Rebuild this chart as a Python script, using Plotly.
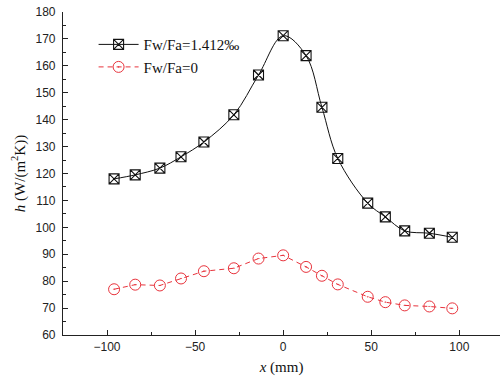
import plotly.graph_objects as go

x_pos = [-96, -84, -70, -58, -45, -28, -14, 0, 13, 22, 31, 48, 58, 69, 83, 96]
h_wet = [118.0, 119.5, 122.0, 126.2, 131.7, 141.8, 156.6, 171.2, 163.8, 144.6, 125.6, 109.0, 103.9, 98.7, 97.8, 96.3]
h_dry = [77.0, 78.7, 78.4, 81.0, 83.7, 84.8, 88.4, 89.6, 85.3, 82.0, 78.8, 74.2, 72.2, 71.0, 70.6, 69.9]

serif = "Liberation Serif, Times New Roman, serif"
sans = "Liberation Sans, Arial, sans-serif"
red = "#e8333c"

fig = go.Figure()
fig.add_trace(go.Scatter(
    x=x_pos, y=h_wet, mode="lines+markers", name="Fw/Fa=1.412‰",
    line=dict(color="#111111", width=1, shape="spline", smoothing=1.0),
    marker=dict(symbol="square-x-open", size=10, color="#111111", line=dict(width=1.1)),
))
fig.add_trace(go.Scatter(
    x=x_pos, y=h_dry, mode="lines+markers", name="Fw/Fa=0",
    line=dict(color=red, width=1, dash="5px,4px"),
    marker=dict(symbol="circle-open-dot", size=11, color=red, line=dict(width=1)),
))

fig.update_layout(
    width=500, height=385,
    margin=dict(l=63, r=0, t=12, b=50),
    paper_bgcolor="white", plot_bgcolor="white",
    showlegend=True,
    legend=dict(x=0.07, y=0.95, xanchor="left", yanchor="top",
                font=dict(family=serif, size=15, color="#111111"),
                bgcolor="rgba(0,0,0,0)", itemwidth=40, tracegroupgap=0),
    xaxis=dict(
        range=[-125, 123.1], showgrid=False, zeroline=False,
        showline=True, linecolor="#222222", linewidth=1.2,
        ticks="inside", ticklen=5, tickcolor="#222222", tickwidth=1,
        tickvals=[-100, -50, 0, 50, 100],
        tickfont=dict(family=sans, size=12, color="#222222"),
        minor=dict(tickvals=[-75, -25, 25, 75], ticks="inside", ticklen=3, tickcolor="#222222"),
        title=dict(text="<i>x</i> (mm)", font=dict(family=serif, size=15, color="#111111"), standoff=8),
    ),
    yaxis=dict(
        range=[60, 180], showgrid=False, zeroline=False,
        showline=True, linecolor="#222222", linewidth=1.2,
        ticks="inside", ticklen=5, tickcolor="#222222", tickwidth=1,
        tickvals=[60, 70, 80, 90, 100, 110, 120, 130, 140, 150, 160, 170, 180],
        tickfont=dict(family=sans, size=12, color="#222222"),
        ticklabelstandoff=4,
        minor=dict(tickvals=[65, 75, 85, 95, 105, 115, 125, 135, 145, 155, 165, 175],
                   ticks="inside", ticklen=3, tickcolor="#222222"),
        title=dict(text="<i>h</i> (W/(m<sup>2</sup>K))", font=dict(family=serif, size=15, color="#111111"), standoff=6),
    ),
)

fig.write_html("out.html")
